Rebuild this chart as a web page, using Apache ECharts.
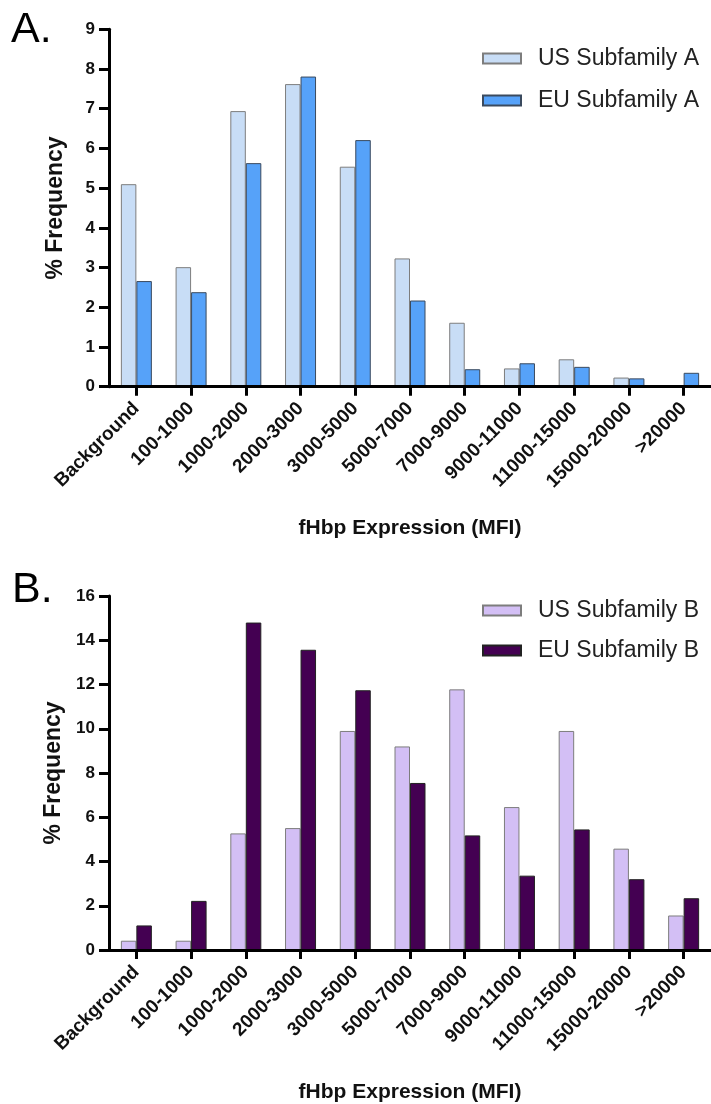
<!DOCTYPE html>
<html>
<head>
<meta charset="utf-8">
<script src="https://cdn.jsdelivr.net/npm/echarts@6/dist/echarts.min.js"></script>
<style>
html,body{margin:0;padding:0;background:#fff;}
#chart{width:711px;height:1104px;}
</style>
</head>
<body>
<div id="chart"></div>
<script>
var categories = ['Background','100-1000','1000-2000','2000-3000','3000-5000','5000-7000','7000-9000','9000-11000','11000-15000','15000-20000','>20000'];
var usSubfamilyA = [5.10, 3.01, 6.94, 7.62, 5.54, 3.23, 1.61, 0.46, 0.69, 0.23, 0];
var euSubfamilyA = [2.66, 2.38, 5.63, 7.81, 6.21, 2.17, 0.44, 0.59, 0.50, 0.21, 0.35];
var usSubfamilyB = [0.42, 0.42, 5.27, 5.51, 9.90, 9.20, 11.78, 6.46, 9.90, 4.58, 1.56];
var euSubfamilyB = [1.11, 2.22, 14.80, 13.57, 11.74, 7.55, 5.18, 3.36, 5.45, 3.20, 2.34];
var yTicksA = {min: 0, max: 9, interval: 1};
var yTicksB = {min: 0, max: 16, interval: 2};

var FONT = 'Liberation Sans, Arial, Helvetica, sans-serif';
var chart = echarts.init(document.getElementById('chart'), null, {renderer: 'canvas'});

function xAxisCfg(gridIndex, gap) {
  return {
    type: 'category', gridIndex: gridIndex, data: categories,
    boundaryGap: true, z: 5,
    name: 'fHbp Expression (MFI)', nameLocation: 'middle', nameGap: gap,
    nameTextStyle: {fontFamily: FONT, fontWeight: 'bold', fontSize: 21, color: '#111'},
    axisLine: {lineStyle: {color: '#000', width: 3}},
    axisTick: {show: true, alignWithLabel: true, length: 9, lineStyle: {color: '#000', width: 3}},
    axisLabel: {rotate: 45, interval: 0, margin: 19, fontFamily: FONT, fontWeight: 'bold', fontSize: 19, color: '#111'},
    splitLine: {show: false}
  };
}
function yAxisCfg(gridIndex, t) {
  return {
    type: 'value', gridIndex: gridIndex, min: t.min, max: t.max, interval: t.interval, z: 5,
    name: '% Frequency', nameLocation: 'middle', nameGap: 42, nameRotate: 90,
    nameTextStyle: {fontFamily: FONT, fontWeight: 'bold', fontSize: 23, color: '#111'},
    axisLine: {show: true, lineStyle: {color: '#000', width: 3}},
    axisTick: {show: true, length: 10, lineStyle: {color: '#000', width: 3}},
    axisLabel: {margin: 14, fontFamily: FONT, fontWeight: 'bold', fontSize: 17, color: '#111'},
    splitLine: {show: false}
  };
}
function barSeries(name, data, xi, fill, border) {
  return {
    type: 'bar', name: name, data: data, xAxisIndex: xi, yAxisIndex: xi,
    barWidth: 15.5, barGap: '0%',
    itemStyle: {color: fill, borderColor: border, borderWidth: 1},
    emphasis: {disabled: true}
  };
}

var option = {
  animation: false,
  backgroundColor: '#fff',
  graphic: [
    {type: 'text', left: 11, top: 9, style: {text: 'A.', font: '43px ' + FONT, fill: '#000'}},
    {type: 'text', left: 12, top: 569, style: {text: 'B.', font: '43px ' + FONT, fill: '#000'}}
  ],
  legend: [
    {
      data: ['US Subfamily A', 'EU Subfamily A'], orient: 'vertical',
      left: 477, top: 42, itemWidth: 38, itemHeight: 10, itemGap: 19, icon: 'rect',
      textStyle: {fontFamily: FONT, fontSize: 23, color: '#222', padding: [0, 0, 0, 12]}
    },
    {
      data: ['US Subfamily B', 'EU Subfamily B'], orient: 'vertical',
      left: 477, top: 594, itemWidth: 38, itemHeight: 10, itemGap: 17, icon: 'rect',
      textStyle: {fontFamily: FONT, fontSize: 23, color: '#222', padding: [0, 0, 0, 12]}
    }
  ],
  grid: [
    {left: 109, top: 29.3, width: 607.2, height: 357.4},
    {left: 109, top: 596, width: 607.2, height: 356}
  ],
  xAxis: [xAxisCfg(0, 131), xAxisCfg(1, 132)],
  yAxis: [yAxisCfg(0, yTicksA), yAxisCfg(1, yTicksB)],
  series: [
    barSeries('US Subfamily A', usSubfamilyA, 0, '#c8ddf6', '#7d7d7d'),
    barSeries('EU Subfamily A', euSubfamilyA, 0, '#56a2f9', '#3a4a5e'),
    barSeries('US Subfamily B', usSubfamilyB, 1, '#d3bff5', '#7d7d7d'),
    barSeries('EU Subfamily B', euSubfamilyB, 1, '#440052', '#222222')
  ]
};
chart.setOption(option);
</script>
</body>
</html>
